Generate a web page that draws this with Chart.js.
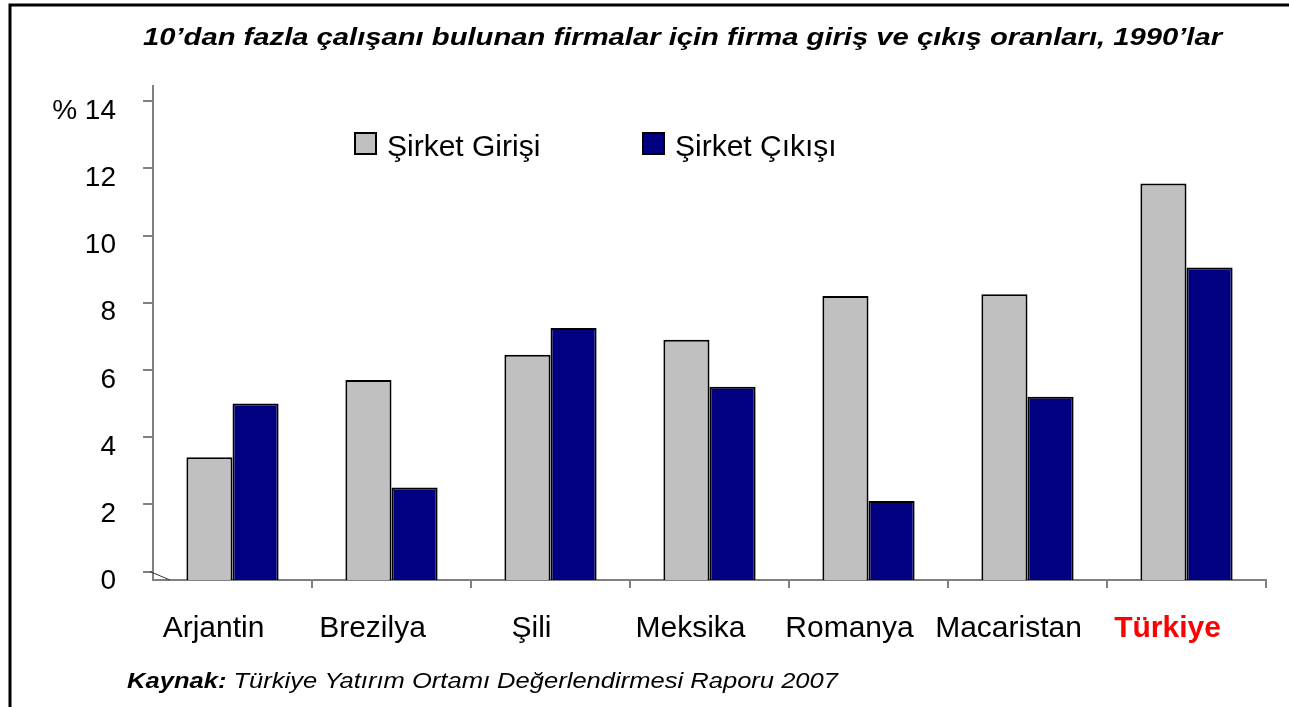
<!DOCTYPE html>
<html>
<head>
<meta charset="utf-8">
<script src="https://cdn.jsdelivr.net/npm/chart.js@4"></script>
<style>
  html, body { margin: 0; padding: 0; background: #fff; }
  #wrap { position: relative; width: 1289px; height: 707px; }
</style>
</head>
<body>
<div id="wrap"><canvas id="firmChart" width="1289" height="707"></canvas></div>
<script>
// Data
const categories = ['Arjantin', 'Brezilya', 'Şili', 'Meksika', 'Romanya', 'Macaristan', 'Türkiye'];
const entryRates = [3.4, 5.7, 6.45, 6.9, 8.2, 8.25, 11.55];
const exitRates = [5.0, 2.5, 7.25, 5.5, 2.1, 5.2, 9.05];
const seriesNames = ['Şirket Girişi', 'Şirket Çıkışı'];
const yTicks = [0, 2, 4, 6, 8, 10, 12, 14];

const titleText = '10’dan fazla çalışanı bulunan firmalar için firma giriş ve çıkış oranları, 1990’lar';
const sourceLead = 'Kaynak:';
const sourceText = ' Türkiye Yatırım Ortamı Değerlendirmesi Raporu 2007';

const FONT = "'Liberation Sans', Arial, sans-serif";
const AXIS_GRAY = '#808080';
const Y_MIN = -0.25;   // floor sits a little below the 0 tick (3D remnant)
const Y_MAX = 14.45;

// the original text is a bit wider than Arial, so stretch it to width
function stretchText(ctx, parts, x, y, width) {
  let total = 0;
  parts.forEach(p => { ctx.font = p.font; total += ctx.measureText(p.text).width; });
  const sx = width / total;
  ctx.save();
  ctx.translate(x, y);
  ctx.scale(sx, 1);
  let cx = 0;
  parts.forEach(p => {
    ctx.font = p.font;
    ctx.fillText(p.text, cx, 0);
    cx += ctx.measureText(p.text).width;
  });
  ctx.restore();
}

// title, legend, source note and frame
const decor = {
  id: 'decor',
  afterDraw(chart) {
    const ctx = chart.ctx;
    const area = chart.chartArea;
    ctx.save();

    // outer frame (top + left only visible)
    ctx.strokeStyle = '#000';
    ctx.lineWidth = 3;
    ctx.beginPath();
    ctx.moveTo(10, 707);
    ctx.lineTo(10, 5);
    ctx.lineTo(1289, 5);
    ctx.stroke();

    // title
    ctx.fillStyle = '#000';
    ctx.textBaseline = 'alphabetic';
    ctx.textAlign = 'left';
    stretchText(ctx, [{ text: titleText, font: 'italic bold 24px ' + FONT }], 143, 45, 1079);

    // legend inside the plot
    const legendX = [355, 643];
    chart.data.datasets.forEach((ds, i) => {
      const x = legendX[i];
      ctx.fillStyle = ds.backgroundColor;
      ctx.fillRect(x, 133, 21, 21);
      ctx.strokeStyle = '#000';
      ctx.lineWidth = 2;
      ctx.strokeRect(x, 133, 21, 21);
      ctx.fillStyle = '#000';
      ctx.font = '30px ' + FONT;
      ctx.fillText(ds.label, x + 32, 156);
    });

    // source note
    stretchText(ctx, [
      { text: sourceLead, font: 'italic bold 22px ' + FONT },
      { text: sourceText, font: 'italic 22px ' + FONT }
    ], 127, 688, 711);

    // little floor diagonal at the origin
    const y0 = chart.scales.y.getPixelForValue(0);
    ctx.strokeStyle = '#333';
    ctx.lineWidth = 1;
    ctx.beginPath();
    ctx.moveTo(area.left - 3, y0);
    ctx.lineTo(area.left + 17, area.bottom);
    ctx.stroke();

    ctx.restore();
  }
};

const ctx = document.getElementById('firmChart').getContext('2d');
new Chart(ctx, {
  type: 'bar',
  data: {
    labels: categories,
    datasets: [
      {
        label: seriesNames[0],
        data: entryRates,
        backgroundColor: '#C0C0C0',
        borderColor: '#000',
        borderWidth: 2,
        base: Y_MIN
      },
      {
        label: seriesNames[1],
        data: exitRates,
        backgroundColor: '#000080',
        borderColor: '#000',
        borderWidth: 2,
        base: Y_MIN
      }
    ]
  },
  options: {
    responsive: false,
    animation: false,
    layout: { padding: { top: 86, right: 23, bottom: 0, left: 0 } },
    datasets: { bar: { categoryPercentage: 0.58, barPercentage: 1.0 } },
    plugins: {
      legend: { display: false },
      title: { display: false },
      tooltip: { enabled: false }
    },
    scales: {
      x: {
        grid: {
          display: true,
          drawOnChartArea: false,
          drawTicks: true,
          tickLength: 8,
          lineWidth: 2,
          color: c => (c.index === 0 ? 'rgba(0,0,0,0)' : AXIS_GRAY)
        },
        border: { display: true, color: AXIS_GRAY, width: 2 },
        ticks: {
          padding: 23,
          labelOffset: -19,
          color: c => (c.index === categories.length - 1 ? '#FF0000' : '#000'),
          font: c => ({
            family: FONT,
            size: 30,
            weight: c.index === categories.length - 1 ? 'bold' : 'normal'
          })
        },
        afterFit: axis => { axis.height = 127; }
      },
      y: {
        min: Y_MIN,
        max: Y_MAX,
        afterBuildTicks: axis => { axis.ticks = yTicks.map(v => ({ value: v })); },
        grid: {
          display: true,
          drawOnChartArea: false,
          drawTicks: true,
          tickLength: 10,
          lineWidth: 2,
          color: AXIS_GRAY
        },
        border: { display: true, color: AXIS_GRAY, width: 2 },
        ticks: {
          padding: 27,
          labelOffset: 10,
          color: '#000',
          font: { family: FONT, size: 28 },
          callback: v => (v === 14 ? '% 14' : String(v))
        },
        afterFit: axis => { axis.width = 153; }
      }
    }
  },
  plugins: [decor]
});
</script>
</body>
</html>
